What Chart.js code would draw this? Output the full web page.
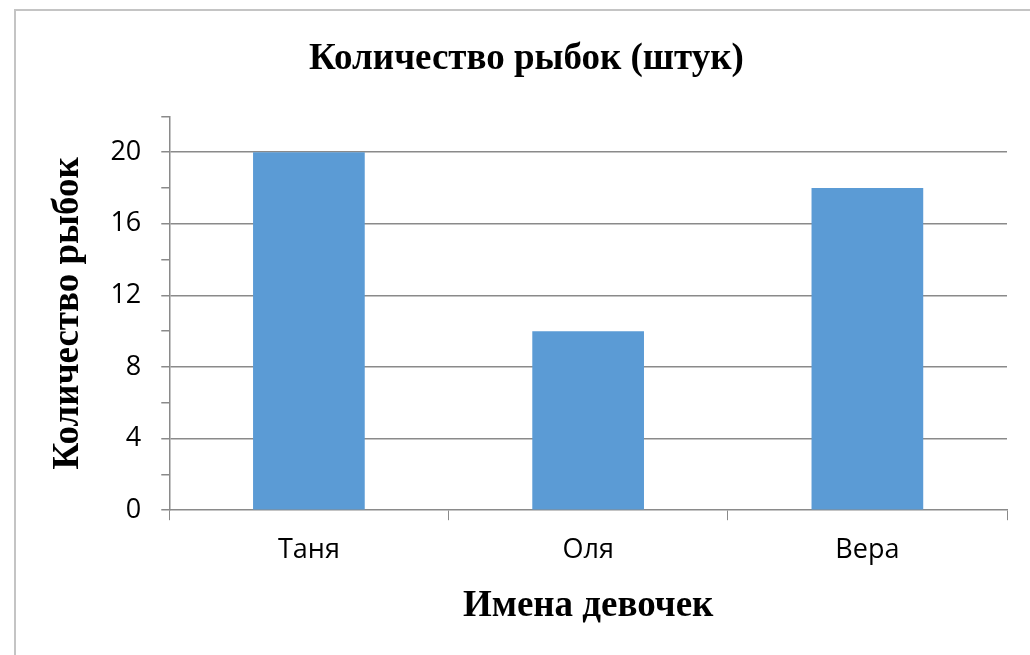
<!DOCTYPE html>
<html>
<head>
<meta charset="utf-8">
<script src="https://cdn.jsdelivr.net/npm/chart.js@4"></script>
<style>
  html, body { margin: 0; padding: 0; background: #fff; }
  #wrap { position: relative; width: 1030px; height: 655px; }
  #frame {
    position: absolute; left: 14px; top: 9px; right: -10px; bottom: -10px;
    border-top: 2px solid #c4c4c4; border-left: 2px solid #c4c4c4;
    pointer-events: none;
  }
  canvas { position: absolute; left: 0; top: 0; }
</style>
</head>
<body>
<div id="wrap">
  <canvas id="fishChart" width="1030" height="655"></canvas>
  <div id="frame"></div>
</div>
<script>
// data
const girls = ['Таня', 'Оля', 'Вера'];
const fishCount = [20, 10, 18];
const yTicksShown = [0, 4, 8, 12, 16, 20];

const gridGray = '#8a8a8a';
const serifBold = { family: '"Liberation Serif", "Times New Roman", serif', weight: 'bold', size: 37 };
const labelFont = { family: '"Open Sans", sans-serif', size: 27 };

const ctx = document.getElementById('fishChart').getContext('2d');
const chart = new Chart(ctx, {
  type: 'bar',
  data: {
    labels: girls,
    datasets: [{
      label: 'Количество рыбок',
      data: fishCount,
      backgroundColor: '#5B9BD5',
      borderWidth: 0,
      barPercentage: 0.4,
      categoryPercentage: 1.0
    }]
  },
  options: {
    responsive: false,
    animation: false,
    layout: { padding: { left: 46, right: 23, top: 0, bottom: 0 } },
    plugins: {
      legend: { display: false },
      tooltip: { enabled: false },
      title: {
        display: true,
        text: 'Количество рыбок (штук)',
        color: '#000',
        font: serifBold,
        padding: { top: 37, bottom: 35 }
      }
    },
    scales: {
      x: {
        grid: {
          offset: true,
          drawOnChartArea: false,
          tickColor: gridGray,
          tickLength: 10
        },
        border: { color: gridGray, width: 1.5 },
        ticks: {
          color: '#000',
          padding: 14,
          font: labelFont
        },
        title: {
          display: true,
          text: 'Имена девочек',
          color: '#000',
          font: serifBold,
          padding: { top: 4, bottom: 26 }
        }
      },
      y: {
        min: 0,
        max: 22,
        ticks: {
          stepSize: 2,
          color: '#000',
          padding: 20,
          font: labelFont,
          callback: (v) => yTicksShown.includes(v) ? String(v) : ''
        },
        grid: {
          color: (c) => (c.tick && c.tick.value > 0 && c.tick.value % 4 === 0 && c.tick.value <= 20) ? gridGray : 'rgba(0,0,0,0)',
          lineWidth: 1.5,
          tickColor: gridGray,
          tickLength: 8
        },
        border: { color: gridGray, width: 1.5 },
        title: {
          display: true,
          text: 'Количество рыбок',
          color: '#000',
          font: serifBold,
          padding: { top: 0, bottom: 0 }
        }
      }
    }
  }
});
</script>
</body>
</html>
